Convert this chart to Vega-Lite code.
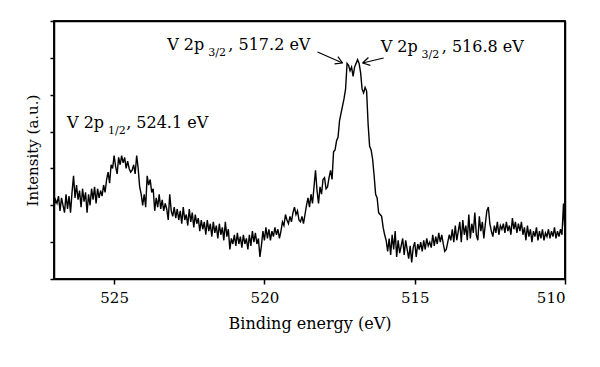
{
  "$schema": "https://vega.github.io/schema/vega-lite/v6.json",
  "autosize": "none",
  "width": 511,
  "height": 258,
  "padding": {"left": 54, "top": 21, "right": 35, "bottom": 88},
  "background": "white",
  "config": {
    "view": {"stroke": "#000000", "strokeWidth": 1.5},
    "font": "DejaVu Serif"
  },
  "resolve": {"axis": {"x": "independent", "y": "independent"}},
  "datasets": {
    "spectrum": [
      {"e":527.00,"i":1.95},{"e":526.95,"i":2.15},{"e":526.90,"i":2.05},{"e":526.85,"i":2.25},{"e":526.80,"i":1.85},{"e":526.75,"i":2.2},{"e":526.70,"i":2.0},{"e":526.65,"i":1.8},{"e":526.60,"i":2.3},{"e":526.55,"i":1.9},{"e":526.50,"i":2.25},{"e":526.45,"i":1.8},{"e":526.40,"i":2.35},{"e":526.35,"i":2.8},{"e":526.30,"i":2.2},{"e":526.25,"i":2.55},{"e":526.20,"i":2.15},{"e":526.15,"i":2.4},{"e":526.10,"i":1.95},{"e":526.05,"i":2.45},{"e":526.00,"i":2.1},{"e":525.95,"i":2.35},{"e":525.90,"i":1.8},{"e":525.85,"i":2.3},{"e":525.80,"i":2.0},{"e":525.75,"i":2.45},{"e":525.70,"i":2.15},{"e":525.65,"i":2.5},{"e":525.60,"i":2.05},{"e":525.55,"i":2.45},{"e":525.50,"i":2.2},{"e":525.45,"i":2.4},{"e":525.40,"i":2.25},{"e":525.35,"i":2.55},{"e":525.30,"i":2.35},
      {"e":525.25,"i":2.7},{"e":525.20,"i":2.9},{"e":525.15,"i":2.6},{"e":525.10,"i":3.1},{"e":525.05,"i":3.0},{"e":525.00,"i":3.35},{"e":524.95,"i":3.05},{"e":524.90,"i":2.85},{"e":524.85,"i":3.3},{"e":524.80,"i":3.1},{"e":524.75,"i":3.35},{"e":524.70,"i":3.15},{"e":524.65,"i":3.3},{"e":524.60,"i":3.0},{"e":524.55,"i":3.2},{"e":524.50,"i":3.0},{"e":524.45,"i":2.9},{"e":524.40,"i":2.95},{"e":524.35,"i":3.1},{"e":524.30,"i":2.85},{"e":524.25,"i":3.35},{"e":524.20,"i":3.0},{"e":524.15,"i":2.5},{"e":524.10,"i":2.3},{"e":524.05,"i":2.0},{"e":524.00,"i":2.3},
      {"e":523.95,"i":1.95},{"e":523.90,"i":2.8},{"e":523.85,"i":2.55},{"e":523.80,"i":2.7},{"e":523.75,"i":2.35},{"e":523.70,"i":2.45},{"e":523.65,"i":1.85},{"e":523.60,"i":2.2},{"e":523.55,"i":1.95},{"e":523.50,"i":2.3},{"e":523.45,"i":1.9},{"e":523.40,"i":2.15},{"e":523.35,"i":1.85},{"e":523.30,"i":2.05},{"e":523.25,"i":1.9},{"e":523.20,"i":1.6},{"e":523.15,"i":2.3},{"e":523.10,"i":1.85},{"e":523.05,"i":1.7},{"e":523.00,"i":1.95},{"e":522.95,"i":1.65},{"e":522.90,"i":1.9},{"e":522.85,"i":1.6},{"e":522.80,"i":1.85},{"e":522.75,"i":1.5},{"e":522.70,"i":1.95},{"e":522.65,"i":1.6},{"e":522.60,"i":1.75},{"e":522.55,"i":1.45},{"e":522.50,"i":1.9},{"e":522.45,"i":1.55},{"e":522.40,"i":1.8},{"e":522.35,"i":1.4},{"e":522.30,"i":1.75},{"e":522.25,"i":1.5},{"e":522.20,"i":1.65},{"e":522.15,"i":1.3},{"e":522.10,"i":1.6},{"e":522.05,"i":1.35},{"e":522.00,"i":1.55},{"e":521.95,"i":1.2},{"e":521.90,"i":1.6},{"e":521.85,"i":1.3},{"e":521.80,"i":1.5},{"e":521.75,"i":1.15},{"e":521.70,"i":1.55},{"e":521.65,"i":1.25},{"e":521.60,"i":1.45},{"e":521.55,"i":1.1},{"e":521.50,"i":1.5},{"e":521.45,"i":1.2},{"e":521.40,"i":1.4},{"e":521.35,"i":1.05},{"e":521.30,"i":1.55},{"e":521.25,"i":1.15},{"e":521.20,"i":1.35},{"e":521.15,"i":0.8},{"e":521.10,"i":1.1},{"e":521.05,"i":0.95},{"e":521.00,"i":1.2},
      {"e":520.95,"i":0.9},{"e":520.90,"i":1.25},{"e":520.85,"i":0.95},{"e":520.80,"i":1.15},{"e":520.75,"i":0.85},{"e":520.70,"i":1.2},{"e":520.65,"i":0.95},{"e":520.60,"i":1.1},{"e":520.55,"i":0.8},{"e":520.50,"i":1.2},{"e":520.45,"i":0.9},{"e":520.40,"i":1.3},{"e":520.35,"i":1.0},{"e":520.30,"i":1.25},{"e":520.25,"i":0.95},{"e":520.20,"i":1.1},{"e":520.15,"i":0.6},{"e":520.10,"i":0.9},{"e":520.05,"i":1.3},{"e":520.00,"i":1.05},{"e":519.95,"i":1.4},{"e":519.90,"i":1.1},{"e":519.85,"i":1.35},{"e":519.80,"i":1.05},{"e":519.75,"i":1.3},{"e":519.70,"i":1.15},{"e":519.65,"i":1.4},{"e":519.60,"i":1.2},{"e":519.55,"i":1.35},{"e":519.50,"i":1.1},
      {"e":519.45,"i":1.3},{"e":519.40,"i":1.55},{"e":519.35,"i":1.45},{"e":519.30,"i":1.75},{"e":519.25,"i":1.6},{"e":519.20,"i":1.5},{"e":519.15,"i":1.7},{"e":519.10,"i":1.55},{"e":519.05,"i":1.8},{"e":519.00,"i":1.95},{"e":518.95,"i":1.75},{"e":518.90,"i":1.85},{"e":518.85,"i":1.6},{"e":518.80,"i":1.55},{"e":518.75,"i":1.7},{"e":518.70,"i":1.5},{"e":518.65,"i":1.75},{"e":518.60,"i":2.0},{"e":518.55,"i":2.2},{"e":518.50,"i":1.95},{"e":518.45,"i":2.3},{"e":518.40,"i":2.05},{"e":518.35,"i":2.5},{"e":518.30,"i":2.95},{"e":518.25,"i":2.4},{"e":518.20,"i":2.05},{"e":518.15,"i":2.5},{"e":518.10,"i":2.3},{"e":518.05,"i":2.7},{"e":518.00,"i":2.75},{"e":517.95,"i":2.45},{"e":517.90,"i":2.5},{"e":517.85,"i":2.75},{"e":517.80,"i":2.95},{"e":517.75,"i":2.7},
      {"e":517.70,"i":3.45},{"e":517.65,"i":3.5},{"e":517.60,"i":3.75},{"e":517.55,"i":3.85},{"e":517.50,"i":4.3},{"e":517.45,"i":4.5},{"e":517.40,"i":4.7},{"e":517.35,"i":4.9},{"e":517.30,"i":5.15},{"e":517.25,"i":5.85},{"e":517.20,"i":5.8},{"e":517.15,"i":5.65},{"e":517.10,"i":5.75},{"e":517.05,"i":5.5},{"e":517.00,"i":5.75},{"e":516.95,"i":5.85},{"e":516.90,"i":5.95},{"e":516.85,"i":5.85},{"e":516.80,"i":5.6},{"e":516.75,"i":5.15},{"e":516.70,"i":5.05},{"e":516.65,"i":5.2},{"e":516.60,"i":5.1},{"e":516.55,"i":4.2},{"e":516.50,"i":3.6},{"e":516.45,"i":3.5},{"e":516.40,"i":3.25},{"e":516.35,"i":2.8},{"e":516.30,"i":2.3},{"e":516.25,"i":2.2},{"e":516.20,"i":1.8},{"e":516.15,"i":1.75},{"e":516.10,"i":1.7},{"e":516.05,"i":1.4},{"e":516.00,"i":1.2},
      {"e":515.95,"i":1.05},{"e":515.90,"i":0.75},{"e":515.85,"i":1.1},{"e":515.80,"i":0.65},{"e":515.75,"i":1.2},{"e":515.70,"i":0.8},{"e":515.65,"i":1.3},{"e":515.60,"i":0.6},{"e":515.55,"i":1.05},{"e":515.50,"i":0.7},{"e":515.45,"i":0.9},{"e":515.40,"i":1.1},{"e":515.35,"i":0.65},{"e":515.30,"i":1.05},{"e":515.25,"i":0.8},{"e":515.20,"i":0.55},{"e":515.15,"i":0.9},{"e":515.10,"i":0.45},{"e":515.05,"i":0.85},{"e":515.00,"i":1.0},{"e":514.95,"i":0.6},{"e":514.90,"i":0.95},{"e":514.85,"i":0.8},{"e":514.80,"i":1.0},{"e":514.75,"i":0.75},{"e":514.70,"i":1.05},{"e":514.65,"i":0.8},{"e":514.60,"i":1.1},{"e":514.55,"i":0.9},{"e":514.50,"i":1.0},{"e":514.45,"i":0.85},{"e":514.40,"i":1.2},{"e":514.35,"i":0.9},{"e":514.30,"i":1.15},{"e":514.25,"i":0.95},{"e":514.20,"i":1.25},{"e":514.15,"i":1.0},{"e":514.10,"i":1.2},{"e":514.05,"i":0.95},{"e":514.00,"i":0.75},{"e":513.95,"i":0.8},{"e":513.90,"i":1.0},{"e":513.85,"i":1.2},{"e":513.80,"i":1.05},{"e":513.75,"i":1.35},{"e":513.70,"i":1.0},{"e":513.65,"i":1.45},{"e":513.60,"i":1.05},{"e":513.55,"i":1.3},{"e":513.50,"i":1.55},{"e":513.45,"i":1.0},{"e":513.40,"i":1.6},{"e":513.35,"i":1.2},{"e":513.30,"i":1.45},{"e":513.25,"i":1.05},{"e":513.20,"i":1.75},{"e":513.15,"i":1.1},{"e":513.10,"i":1.5},{"e":513.05,"i":1.25},{"e":513.00,"i":1.8},{"e":512.95,"i":1.2},{"e":512.90,"i":1.05},{"e":512.85,"i":1.7},{"e":512.80,"i":1.3},{"e":512.75,"i":1.55},{"e":512.70,"i":1.1},{"e":512.65,"i":1.5},{"e":512.60,"i":1.85},{"e":512.55,"i":1.95},{"e":512.50,"i":1.5},{"e":512.45,"i":1.3},{"e":512.40,"i":1.15},{"e":512.35,"i":1.45},{"e":512.30,"i":1.25},{"e":512.25,"i":1.55},{"e":512.20,"i":1.2},{"e":512.15,"i":1.45},{"e":512.10,"i":1.35},{"e":512.05,"i":1.5},{"e":512.00,"i":1.25},{"e":511.95,"i":1.55},{"e":511.90,"i":1.3},{"e":511.85,"i":1.45},{"e":511.80,"i":1.2},{"e":511.75,"i":1.65},{"e":511.70,"i":1.35},{"e":511.65,"i":1.55},{"e":511.60,"i":1.25},{"e":511.55,"i":1.5},{"e":511.50,"i":1.3},{"e":511.45,"i":1.55},{"e":511.40,"i":1.2},{"e":511.35,"i":1.4},{"e":511.30,"i":1.05},{"e":511.25,"i":1.45},{"e":511.20,"i":1.15},{"e":511.15,"i":1.35},{"e":511.10,"i":1.0},{"e":511.05,"i":1.3},{"e":511.00,"i":1.15},{"e":510.95,"i":1.4},{"e":510.90,"i":1.05},{"e":510.85,"i":1.3},{"e":510.80,"i":1.1},{"e":510.75,"i":1.35},{"e":510.70,"i":1.05},{"e":510.65,"i":1.25},{"e":510.60,"i":1.15},{"e":510.55,"i":1.35},{"e":510.50,"i":1.1},{"e":510.45,"i":1.3},{"e":510.40,"i":1.15},{"e":510.35,"i":1.4},{"e":510.30,"i":1.1},{"e":510.25,"i":1.3},{"e":510.20,"i":1.15},{"e":510.15,"i":1.35},{"e":510.10,"i":1.2},{"e":510.05,"i":2.05},{"e":510.00,"i":1.2}
    ],
    "segments": [
      {"x1":518.233,"y1":6.158,"x2":517.4,"y2":5.86},
      {"x1":517.557,"y1":6.036,"x2":517.4,"y2":5.86},
      {"x1":517.667,"y1":5.836,"x2":517.4,"y2":5.86},
      {"x1":516.033,"y1":5.996,"x2":516.733,"y2":5.86},
      {"x1":516.477,"y1":5.798,"x2":516.733,"y2":5.86},
      {"x1":516.54,"y1":6.009,"x2":516.733,"y2":5.86}
    ],
    "box": [{"xa": 527, "xb": 510, "ya": 0, "yb": 7}],
    "labels": [
      {"e":526.567,"i":4.097,"t":"V 2p"},
      {"e":524.6,"i":4.097,"t":", 524.1 eV"},
      {"e":523.233,"i":6.213,"t":"V 2p"},
      {"e":521.2,"i":6.213,"t":", 517.2 eV"},
      {"e":516.133,"i":6.16,"t":"V 2p"},
      {"e":514.1,"i":6.16,"t":", 516.8 eV"}
    ],
    "subs": [
      {"e":525.2,"i":3.93,"t":"1/2"},
      {"e":521.87,"i":6.05,"t":"3/2"},
      {"e":514.77,"i":6.0,"t":"3/2"}
    ]
  },
  "layer": [
    {
      "data": {"name": "spectrum"},
      "mark": {"type": "line", "color": "black", "strokeWidth": 1.4, "clip": true},
      "encoding": {
        "x": {
          "field": "e", "type": "quantitative",
          "scale": {"domain": [527, 510], "nice": false, "zero": false},
          "axis": {
            "title": "Binding energy (eV)",
            "values": [525, 520, 515, 510],
            "grid": false,
            "domainColor": "black", "domainWidth": 1.5,
            "tickColor": "black", "tickWidth": 1.5, "tickSize": 5,
            "labelFont": "DejaVu Serif", "labelFontSize": 15, "labelColor": "black", "labelPadding": 6,
            "titleFont": "DejaVu Serif", "titleFontSize": 16, "titleFontWeight": "normal", "titleColor": "black", "titlePadding": 10
          }
        },
        "y": {
          "field": "i", "type": "quantitative",
          "scale": {"domain": [0, 7], "nice": false, "zero": false},
          "axis": {
            "title": "Intensity (a.u.)",
            "values": [0, 1, 2, 3, 4, 5, 6, 7],
            "labels": false,
            "grid": false,
            "domainColor": "black", "domainWidth": 1.5,
            "tickColor": "black", "tickWidth": 1.5, "tickSize": 4,
            "titleFont": "DejaVu Serif", "titleFontSize": 15, "titleFontWeight": "normal", "titleColor": "black", "titlePadding": 9
          }
        }
      }
    },
    {
      "data": {"name": "box"},
      "mark": {"type": "rect", "fill": null, "fillOpacity": 0, "stroke": "black", "strokeWidth": 1.5},
      "encoding": {
        "x": {"field": "xa", "type": "quantitative", "axis": {"orient": "top", "title": null, "labels": false, "ticks": false, "grid": false, "domainColor": "black", "domainWidth": 1.5}},
        "x2": {"field": "xb"},
        "y": {"field": "ya", "type": "quantitative", "axis": {"orient": "right", "title": null, "labels": false, "ticks": false, "grid": false, "domainColor": "black", "domainWidth": 1.5}},
        "y2": {"field": "yb"}
      }
    },
    {
      "data": {"name": "segments"},
      "mark": {"type": "rule", "color": "black", "strokeWidth": 1.2},
      "encoding": {
        "x": {"field": "x1", "type": "quantitative", "axis": null},
        "y": {"field": "y1", "type": "quantitative", "axis": null},
        "x2": {"field": "x2"},
        "y2": {"field": "y2"}
      }
    },
    {
      "data": {"name": "labels"},
      "mark": {"type": "text", "align": "left", "baseline": "alphabetic", "font": "DejaVu Serif", "fontSize": 16, "color": "black"},
      "encoding": {
        "x": {"field": "e", "type": "quantitative", "axis": null},
        "y": {"field": "i", "type": "quantitative", "axis": null},
        "text": {"field": "t"}
      }
    },
    {
      "data": {"name": "subs"},
      "mark": {"type": "text", "align": "left", "baseline": "alphabetic", "font": "DejaVu Serif", "fontSize": 11, "color": "black"},
      "encoding": {
        "x": {"field": "e", "type": "quantitative", "axis": null},
        "y": {"field": "i", "type": "quantitative", "axis": null},
        "text": {"field": "t"}
      }
    }
  ]
}
